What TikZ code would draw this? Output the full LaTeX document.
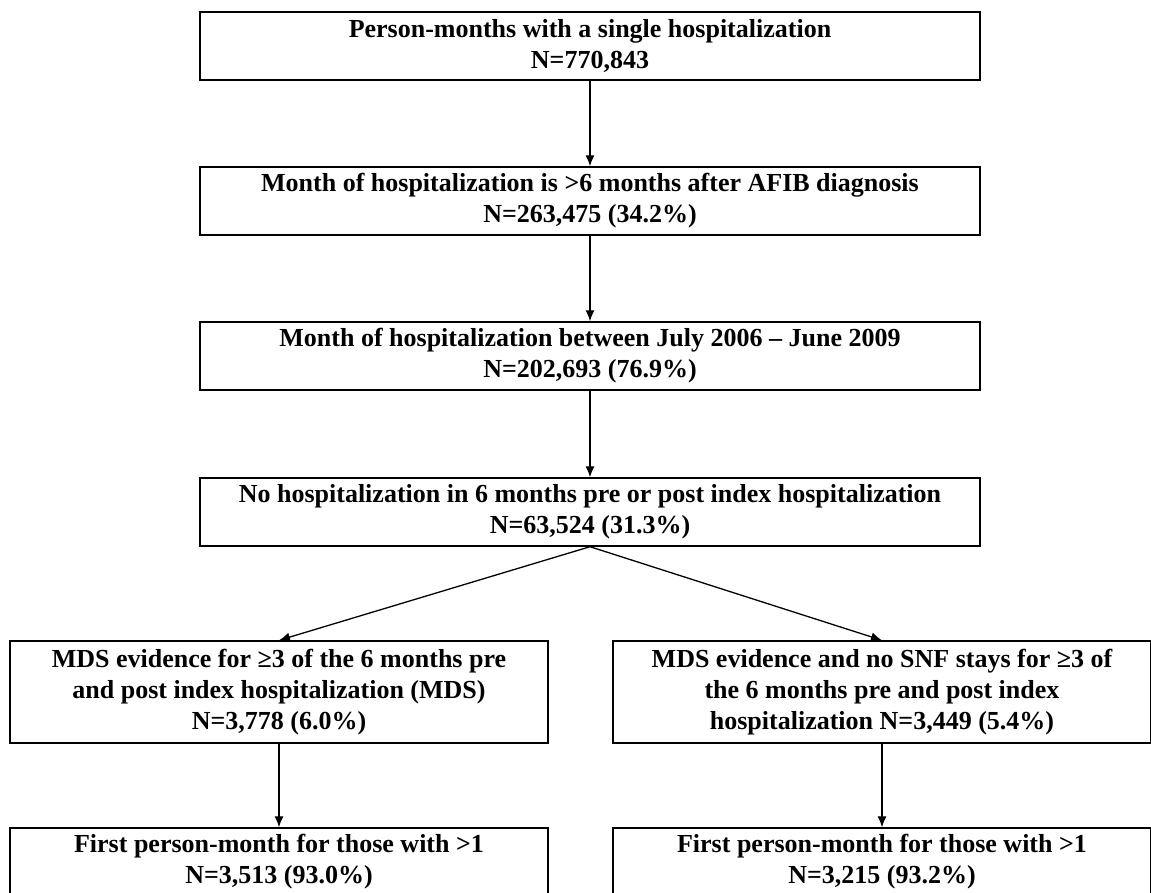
\documentclass[tikz,border=0pt]{standalone}
\usepackage{fontspec}
\setmainfont{Liberation Serif}
\usetikzlibrary{arrows.meta}

\begin{document}
\begin{tikzpicture}[x=1pt, y=-1pt,
	box/.style={draw, line width=1.4pt, rectangle, inner sep=0pt, align=center, font=\bfseries\fontsize{26}{31}\selectfont},
	widebox/.style={box, minimum width=780pt, minimum height=68pt},
	halfbox/.style={box, minimum width=538pt},
	arr/.style={-{Latex[length=11pt, width=9pt]}, line width=1.3pt}]
	\useasboundingbox (0,0) rectangle (1151,892);

	\node[widebox] (start) at (590,46) {Person-months with a single hospitalization\\N=770,843};
	\node[widebox] (afib) at (590,201) {Month of hospitalization is >6 months after AFIB diagnosis\\N=263,475 (34.2\%)};
	\node[widebox] (period) at (590,356) {Month of hospitalization between July 2006 -- June 2009\\N=202,693 (76.9\%)};
	\node[widebox] (nohosp) at (590,512) {No hospitalization in 6 months pre or post index hospitalization\\N=63,524 (31.3\%)};

	\node[halfbox, minimum height=102pt] (mds) at (279,692) {MDS evidence for ≥3 of the 6 months pre\\and post index hospitalization (MDS)\\N=3,778 (6.0\%)};
	\node[halfbox, minimum height=102pt] (nosnf) at (882,692) {MDS evidence and no SNF stays for ≥3 of\\the 6 months pre and post index\\hospitalization N=3,449 (5.4\%)};

	\node[halfbox, minimum height=68pt] (firstmds) at (279,862) {First person-month for those with >1\\N=3,513 (93.0\%)};
	\node[halfbox, minimum height=68pt] (firstsnf) at (882,862) {First person-month for those with >1\\N=3,215 (93.2\%)};

	\draw[arr] (start) -- (afib);
	\draw[arr] (afib) -- (period);
	\draw[arr] (period) -- (nohosp);
	\draw[arr] (nohosp.south) -- (mds.north);
	\draw[arr] (nohosp.south) -- (nosnf.north);
	\draw[arr] (mds) -- (firstmds);
	\draw[arr] (nosnf) -- (firstsnf);
\end{tikzpicture}
\end{document}
